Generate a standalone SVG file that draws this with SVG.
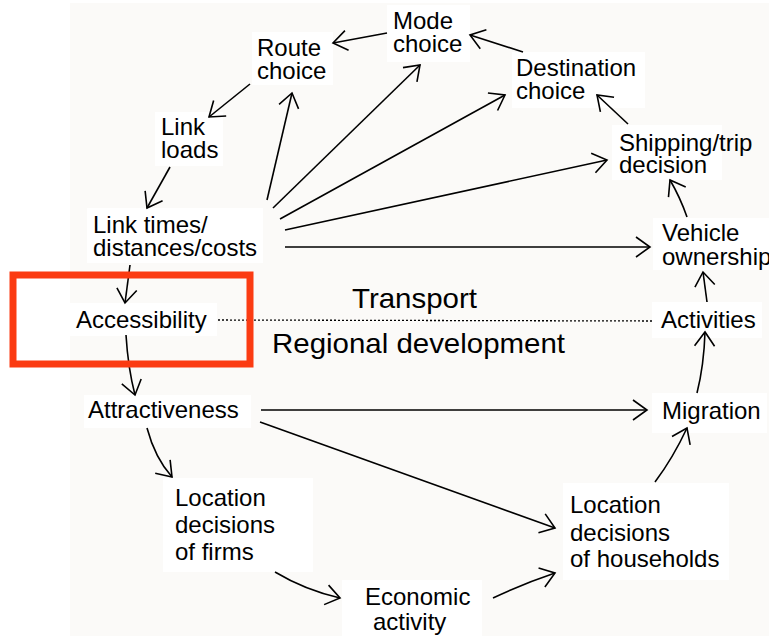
<svg xmlns="http://www.w3.org/2000/svg" width="769" height="636" viewBox="0 0 769 636">
<defs>
<marker id="ah" markerUnits="userSpaceOnUse" viewBox="-16 -12 18 24" refX="0" refY="0" markerWidth="18" markerHeight="24" orient="auto" overflow="visible">
<path d="M-14,-10 L0,0 L-14,10" fill="none" stroke="#000" stroke-width="1.6" stroke-linejoin="miter"/>
</marker>
</defs>
<style>
text{font-family:"Liberation Sans",Arial,Helvetica,sans-serif;font-size:24px;fill:#000}
.big{font-size:28px}
.bx{fill:#fff;stroke:none}
.c path{fill:none;stroke:#000;stroke-width:1.6;marker-end:url(#ah)}
.dot{fill:none;stroke:#000;stroke-width:1.3;stroke-dasharray:2 2}
</style>
<rect x="0" y="0" width="769" height="636" fill="#fff"/>
<rect x="70" y="3" width="699" height="633" fill="#fbfaf8"/>

<g id="mode"><rect class="bx" x="387" y="5" width="83" height="57"/><text x="393" y="29">Mode</text><text x="393" y="52">choice</text></g>
<g id="route"><rect class="bx" x="252" y="32" width="81" height="53"/><text x="257" y="56">Route</text><text x="257" y="79">choice</text></g>
<g id="linkloads"><rect class="bx" x="155" y="112" width="68" height="54"/><text x="161" y="135">Link</text><text x="161" y="158">loads</text></g>
<g id="linktimes"><rect class="bx" x="87" y="208" width="176" height="55"/><text x="93" y="233">Link times/</text><text x="93" y="256">distances/costs</text></g>
<g id="accessibility"><rect class="bx" x="70" y="303" width="147" height="33"/><text x="76" y="328">Accessibility</text></g>
<g id="attractiveness"><rect class="bx" x="84" y="395" width="167" height="33"/><text x="88" y="418">Attractiveness</text></g>
<g id="firms"><rect class="bx" x="163" y="478" width="150" height="94"/><text x="175" y="506">Location</text><text x="175" y="533">decisions</text><text x="175" y="560">of firms</text></g>
<g id="economic"><rect class="bx" x="342" y="580" width="140" height="56"/><text x="365" y="605">Economic</text><text x="373" y="630">activity</text></g>
<g id="households"><rect class="bx" x="563" y="483" width="166" height="97"/><text x="570" y="513">Location</text><text x="570" y="541">decisions</text><text x="570" y="567">of households</text></g>
<g id="migration"><rect class="bx" x="652" y="393" width="115" height="40"/><text x="662" y="419">Migration</text></g>
<g id="activities"><rect class="bx" x="652" y="302" width="110" height="36"/><text x="661" y="328">Activities</text></g>
<g id="vehicle"><rect class="bx" x="653" y="218" width="116" height="52"/><text x="662" y="241">Vehicle</text><text x="662" y="265">ownership</text></g>
<g id="shipping"><rect class="bx" x="612" y="125" width="110" height="55"/><text x="619" y="151">Shipping/trip</text><text x="619" y="173">decision</text></g>
<g id="destination"><rect class="bx" x="512" y="52" width="133" height="56"/><text x="516" y="76">Destination</text><text x="516" y="99">choice</text></g>

<g id="labels">
<text class="big" x="352" y="308" textLength="125" lengthAdjust="spacingAndGlyphs">Transport</text>
<text class="big" x="272" y="353" textLength="293" lengthAdjust="spacingAndGlyphs">Regional development</text>
</g>

<g id="connectors" class="c">
<path d="M387,33 L333,43"/>
<path d="M523,52 L470,35"/>
<path d="M250,84 L209,117"/>
<path d="M170,167 L147,208"/>
<path d="M130,265 L125,303"/>
<path d="M126,335 Q128,368 135,395"/>
<path d="M147,428 Q155,458 172,477"/>
<path d="M275,572 Q305,590 340,598"/>
<path d="M493,598 Q525,583 555,573"/>
<path d="M655,482 Q673,458 687,428"/>
<path d="M697,393 Q704,365 705,332"/>
<path d="M707,302 L703,272"/>
<path d="M687,217 Q680,197 670,180"/>
<path d="M628,124 L597,95"/>
<path d="M267,200 L292,93"/>
<path d="M273,208 L420,65"/>
<path d="M280,219 L505,95"/>
<path d="M285,230 L607,160"/>
<path d="M285,247 L650,247"/>
<path d="M261,410 L647,410"/>
<path d="M260,422 L555,528"/>
<line class="dot" x1="218" y1="320" x2="652" y2="321" style="marker-end:none"/>
</g>

<rect id="highlight" x="13" y="275" width="237" height="89" fill="none" stroke="#fb3b12" stroke-width="7"/>
</svg>
